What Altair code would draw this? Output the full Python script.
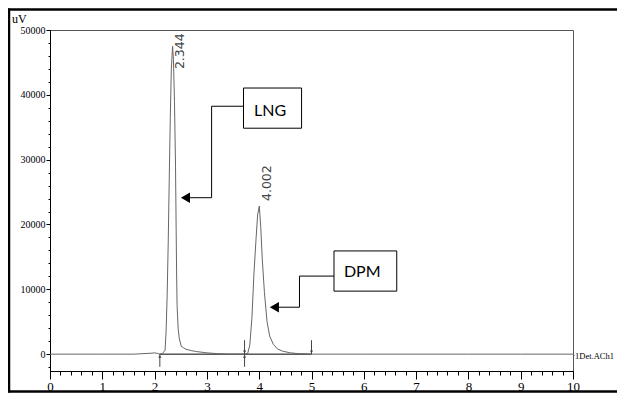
import altair as alt
import pandas as pd

# ---- chromatogram trace: retention time (min) and detector signal (uV) ----
rt = [0.0, 1.0, 1.6, 1.95, 2.0, 2.05, 2.1, 2.15, 2.2, 2.22, 2.24, 2.26, 2.28, 2.3, 2.32, 2.344,
      2.36, 2.38, 2.4, 2.41, 2.42, 2.43, 2.45, 2.47, 2.51, 2.55, 2.6, 2.7, 2.8, 3.0, 3.2, 3.4, 3.72,
      3.78, 3.82, 3.86, 3.9, 3.94, 3.97, 4.002, 4.03, 4.06, 4.1, 4.15, 4.2, 4.27, 4.35, 4.45,
      4.6, 4.75, 5.0, 6.0, 7.0, 8.0, 9.0, 10.0]
signal = [0, 0, 0, 150, 200, 120, 0, 100, 600, 3500, 9000, 17000, 27000, 36500, 44000, 47500,
          45500, 39000, 29000, 21000, 13000, 7500, 4000, 2500, 1200, 1000, 750, 550, 400, 200, 80, 0, 0,
          100, 1400, 5500, 12500, 17800, 21500, 22850, 19500, 14500, 9500, 5000, 2800, 1500, 800, 450,
          200, 80, 0, 0, 0, 0, 0, 0]

# ---- peaks ----
peak_rt = [2.344, 4.002]
peak_height = [47500, 22850]
peak_label = ["2.344", "4.002"]

# ---- integration markers ----
peak_start = [2.1, 3.72]
peak_end = [3.72, 5.0]

# ---- annotation boxes (compound names) ----
box_name = ["LNG", "DPM"]
box_x1 = [3.70, 5.43]
box_x2 = [4.81, 6.63]
box_y1 = [34850, 9720]
box_y2 = [41050, 15920]
text_x = [4.21, 5.97]
text_y = [37500, 12650]
# connector polylines: box -> corner -> corner -> arrow
conn_x = [[3.70, 3.09, 3.09, 2.6], [5.43, 4.77, 4.77, 4.29]]
conn_y = [[38240, 38240, 24130, 24130], [12040, 12040, 7240, 7240]]
arrow_x = [2.59, 4.29]
arrow_y = [24130, 7240]

# ---- axes ----
x_ticks = [0, 1, 2, 3, 4, 5, 6, 7, 8, 9, 10]
x_minor = [round(i * 0.2, 1) for i in range(51)]
y_ticks = [0, 10000, 20000, 30000, 40000, 50000]
y_minor = list(range(-2000, 50001, 2000))

trace = pd.DataFrame({"rt": rt, "signal": signal})
peaks = pd.DataFrame({"rt": peak_rt, "h": peak_height, "label": peak_label})
starts = pd.DataFrame({"rt": peak_start})
ends = pd.DataFrame({"rt": peak_end})
boxes = pd.DataFrame({"name": box_name, "x1": box_x1, "x2": box_x2, "y1": box_y1, "y2": box_y2,
                      "tx": text_x, "ty": text_y})
conn_rows = []
for name, xs_, ys_ in zip(box_name, conn_x, conn_y):
    for i, (a, b) in enumerate(zip(xs_, ys_)):
        conn_rows.append({"name": name, "i": i, "x": a, "y": b})
conn = pd.DataFrame(conn_rows)
arrows = pd.DataFrame({"x": arrow_x, "y": arrow_y})
one = pd.DataFrame({"k": [0]})

xs = alt.Scale(domain=[0, 10], nice=False, zero=False)
ys = alt.Scale(domain=[-2600, 50000], nice=False, zero=False)

SERIF = "Liberation Serif"

major_x = alt.Axis(values=x_ticks, orient="bottom", title=None, grid=False, tickSize=8,
                   tickColor="black", domainColor="black", labelFont=SERIF, labelFontSize=13,
                   labelColor="black", labelPadding=1, format="d", labelFlush=False)
major_y = alt.Axis(values=y_ticks, orient="left", title=None, grid=False, tickSize=4,
                   tickColor="black", domainColor="black", labelFont=SERIF, labelFontSize=10,
                   labelColor="black", labelPadding=1, format="d", labelFlush=False)
minor_x = alt.Axis(values=x_minor, orient="bottom", title=None, grid=False, tickSize=4,
                   tickColor="black", labels=False, domain=False)
minor_y = alt.Axis(values=y_minor, orient="left", title=None, grid=False, tickSize=2,
                   tickColor="black", labels=False, domain=False)

base_trace = alt.Chart(trace)

line = base_trace.mark_line(color="#666666", strokeWidth=1).encode(
    x=alt.X("rt:Q", scale=xs, axis=major_x),
    y=alt.Y("signal:Q", scale=ys, axis=major_y),
)
minor = base_trace.mark_line(opacity=0).encode(
    x=alt.X("rt:Q", scale=xs, axis=minor_x),
    y=alt.Y("signal:Q", scale=ys, axis=minor_y),
)

X = lambda f: alt.X(f, type="quantitative", scale=xs, axis=None)
Y = lambda f: alt.Y(f, type="quantitative", scale=ys, axis=None)

# integration baseline
integ = alt.Chart(pd.DataFrame({"a": [peak_start[0]], "b": [peak_end[-1]], "z": [0]})).mark_rule(
    color="black", strokeWidth=1).encode(x=X("a"), x2="b", y=Y("z"))

# start markers (up arrows below baseline), end markers (down arrows above baseline)
up_rule = alt.Chart(starts).transform_calculate(lo="-1950", hi="0").mark_rule(
    color="#444", strokeWidth=1).encode(x=X("rt"), y=Y("lo:Q"), y2="hi:Q")
up_head = alt.Chart(starts).transform_calculate(p="-350").mark_point(
    shape="triangle-up", filled=True, color="#444", size=10, opacity=1).encode(x=X("rt"), y=Y("p:Q"))
dn_rule = alt.Chart(ends).transform_calculate(lo="0", hi="2150").mark_rule(
    color="#444", strokeWidth=1).encode(x=X("rt"), y=Y("lo:Q"), y2="hi:Q")
dn_head = alt.Chart(ends).transform_calculate(p="350").mark_point(
    shape="triangle-down", filled=True, color="#444", size=10, opacity=1).encode(x=X("rt"), y=Y("p:Q"))

# peak retention-time labels
lab1 = alt.Chart(peaks).transform_filter("datum.label == '2.344'").mark_text(
    angle=270, align="center", baseline="middle", dx=-5, dy=7, font="DejaVu Sans",
    fontSize=12.5, color="#444").encode(x=X("rt"), y=Y("h"), text="label:N")
lab2 = alt.Chart(peaks).transform_filter("datum.label == '4.002'").mark_text(
    angle=270, align="left", baseline="middle", dx=5, dy=8, font="DejaVu Sans",
    fontSize=12.5, color="#444").encode(x=X("rt"), y=Y("h"), text="label:N")

# connectors and arrowheads
conn_line = alt.Chart(conn).mark_line(color="black", strokeWidth=1).encode(
    x=X("x"), y=Y("y"), detail="name:N", order="i:Q")
heads = alt.Chart(arrows).mark_point(shape="triangle-left", filled=True, color="black",
                                     size=110, opacity=1).encode(x=X("x"), y=Y("y"))

# compound boxes
box_rect = alt.Chart(boxes).mark_rect(fill="white", stroke="black", strokeWidth=1).encode(
    x=X("x1"), x2="x2", y=Y("y1"), y2="y2")
box_text = alt.Chart(boxes).mark_text(font="Lato", fontSize=16, color="black",
                                      baseline="middle", align="center").encode(
    x=X("tx"), y=Y("ty"), text="name:N")

# outer frame (top, left, bottom edges; the right edge lies beyond the picture)
frame_top = alt.Chart(one).mark_rule(color="black", strokeWidth=2.5).encode(
    x=alt.value(-42), x2=alt.value(600), y=alt.value(-20.5))
frame_bottom = alt.Chart(one).mark_rule(color="black", strokeWidth=2.5).encode(
    x=alt.value(-42), x2=alt.value(600), y=alt.value(361.5))
frame_left = alt.Chart(one).mark_rule(color="black", strokeWidth=2.5).encode(
    x=alt.value(-41), y=alt.value(-21.5), y2=alt.value(362.5))

uv = alt.Chart(one).mark_text(text="uV", font=SERIF, fontSize=12, align="left",
                              baseline="middle", color="black").encode(
    x=alt.value(-38), y=alt.value(-11))
det = alt.Chart(one).mark_text(text="1Det.ACh1", font=SERIF, fontSize=8.5, align="left",
                               baseline="middle", color="black").encode(
    x=alt.value(525), y=alt.value(326))
dot = alt.Chart(one).mark_rule(color="#555", strokeDash=[1, 1], strokeWidth=1).encode(
    x=alt.value(523), x2=alt.value(525), y=alt.value(324), y2=alt.value(326))

chart = alt.layer(
    frame_top, frame_bottom, frame_left, minor, integ, line, up_rule, up_head, dn_rule, dn_head,
    lab1, lab2, conn_line, heads, box_rect, box_text, uv, det, dot
).resolve_axis(x="independent", y="independent").properties(
    width=523, height=341,
    padding={"left": 42, "top": 22, "right": 44, "bottom": 22},
    autosize=alt.AutoSizeParams(type="none"),
    background="white",
).configure_view(stroke="#555", strokeWidth=1)

chart.save("out.html", embed_options={"renderer": "svg", "actions": False})
